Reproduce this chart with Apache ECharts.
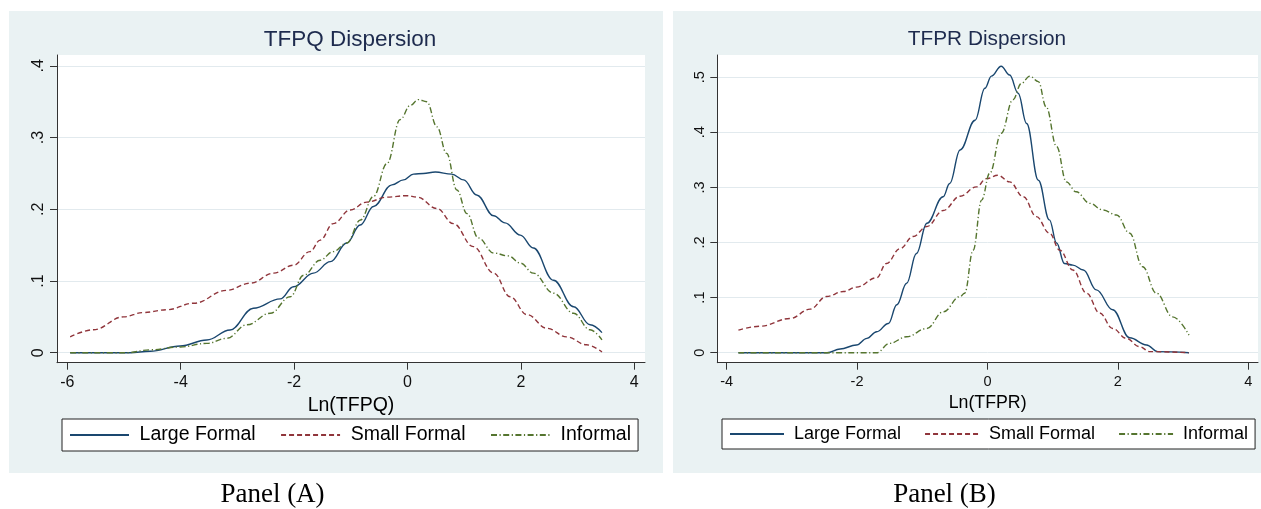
<!DOCTYPE html>
<html>
<head>
<meta charset="utf-8">
<script src="https://cdn.jsdelivr.net/npm/echarts@6/dist/echarts.min.js"></script>
<style>
  html, body { margin: 0; padding: 0; background: #ffffff; }
  #chart { width: 1261px; height: 509px; }
</style>
</head>
<body>
<div id="chart"></div>
<script>
// ---------- Data ----------
const seriesNames = ['Large Formal', 'Small Formal', 'Informal'];

// Panel A: Ln(TFPQ)
const tfpqLargeX = [-5.95, -4.9, -4.54, -4.01, -3.54, -3.13, -2.72, -2.245, -2.01, -1.66, -1.36, -1.07, -0.834, -0.6, -0.275, -0.07, 0.106, 0.28, 0.49, 0.78, 0.99, 1.22, 1.52, 1.72, 1.99, 2.22, 2.575, 2.93, 3.22, 3.43];
const tfpqLargeY = [0, 0, 0.002, 0.0093, 0.0177, 0.0317, 0.062, 0.075, 0.092, 0.111, 0.127, 0.153, 0.178, 0.204, 0.234, 0.241, 0.249, 0.25, 0.252, 0.249, 0.241, 0.22, 0.191, 0.181, 0.164, 0.146, 0.101, 0.064, 0.039, 0.028];

const tfpqSmallX = [-5.95, -5.54, -5.01, -4.66, -4.24, -3.77, -3.19, -2.77, -2.36, -2.01, -1.72, -1.54, -1.31, -1.01, -0.72, -0.36, -0.01, 0.17, 0.52, 0.81, 1.16, 1.52, 1.81, 2.11, 2.46, 2.81, 3.16, 3.43];
const tfpqSmallY = [0.022, 0.032, 0.050, 0.056, 0.060, 0.069, 0.087, 0.097, 0.111, 0.122, 0.141, 0.157, 0.180, 0.199, 0.210, 0.217, 0.219, 0.217, 0.201, 0.180, 0.148, 0.111, 0.078, 0.053, 0.034, 0.022, 0.011, 0.001];

const tfpqInformalX = [-5.95, -4.95, -4.54, -4.01, -3.54, -3.19, -2.83, -2.42, -2.07, -1.83, -1.54, -1.31, -1.07, -0.83, -0.6, -0.36, -0.13, 0.05, 0.19, 0.34, 0.52, 0.69, 0.87, 1.05, 1.25, 1.52, 1.78, 1.99, 2.22, 2.575, 2.93, 3.22, 3.43];
const tfpqInformalY = [0, 0, 0.004, 0.008, 0.013, 0.020, 0.039, 0.055, 0.078, 0.108, 0.129, 0.141, 0.153, 0.185, 0.218, 0.264, 0.325, 0.345, 0.353, 0.350, 0.315, 0.278, 0.227, 0.194, 0.160, 0.139, 0.135, 0.125, 0.111, 0.083, 0.055, 0.032, 0.018];

// Panel B: Ln(TFPR)
const tfprLargeX = [-3.82, -2.46, -2.26, -2.01, -1.85, -1.70, -1.52, -1.39, -1.24, -1.09, -0.93, -0.68, -0.58, -0.42, -0.19, -0.04, 0.06, 0.21, 0.34, 0.47, 0.60, 0.78, 0.95, 1.06, 1.18, 1.31, 1.47, 1.67, 1.92, 2.18, 2.44, 2.61, 3.09];
const tfprLargeY = [0, 0, 0.0067, 0.014, 0.026, 0.038, 0.053, 0.087, 0.126, 0.180, 0.235, 0.283, 0.307, 0.368, 0.422, 0.480, 0.502, 0.520, 0.504, 0.471, 0.416, 0.313, 0.241, 0.199, 0.162, 0.159, 0.150, 0.114, 0.078, 0.027, 0.014, 0.002, 0];

const tfprSmallX = [-3.82, -3.49, -3.03, -2.72, -2.47, -2.21, -2.01, -1.70, -1.55, -1.34, -1.14, -0.93, -0.68, -0.42, -0.17, -0.015, 0.16, 0.34, 0.55, 0.75, 0.95, 1.11, 1.31, 1.52, 1.72, 1.92, 2.13, 2.33, 2.49, 3.09];
const tfprSmallY = [0.041, 0.048, 0.062, 0.079, 0.102, 0.111, 0.119, 0.136, 0.162, 0.189, 0.211, 0.229, 0.258, 0.284, 0.301, 0.316, 0.322, 0.310, 0.283, 0.247, 0.217, 0.186, 0.150, 0.108, 0.072, 0.044, 0.026, 0.011, 0.002, 0];

const tfprInformalX = [-3.82, -1.70, -1.50, -1.24, -0.93, -0.68, -0.42, -0.35, -0.22, -0.09, 0.035, 0.21, 0.39, 0.52, 0.65, 0.78, 0.90, 1.06, 1.21, 1.36, 1.57, 1.77, 1.98, 2.18, 2.38, 2.59, 2.84, 3.09];
const tfprInformalY = [0, 0, 0.017, 0.029, 0.044, 0.074, 0.102, 0.108, 0.186, 0.277, 0.326, 0.398, 0.459, 0.489, 0.502, 0.492, 0.446, 0.374, 0.310, 0.292, 0.271, 0.259, 0.250, 0.217, 0.156, 0.108, 0.065, 0.032];

// Tick labels
const tfpqXTicks = [-6, -4, -2, 0, 2, 4];
const tfpqYTicks = [0, 0.1, 0.2, 0.3, 0.4];
const tfprXTicks = [-4, -2, 0, 2, 4];
const tfprYTicks = [0, 0.1, 0.2, 0.3, 0.4, 0.5];

const panelTitles = ['TFPQ Dispersion', 'TFPR Dispersion'];
const xAxisTitles = ['Ln(TFPQ)', 'Ln(TFPR)'];
const panelCaptions = ['Panel (A)', 'Panel (B)'];

// ---------- Styling ----------
const FONT = '"Liberation Sans", Arial, Helvetica, sans-serif';
const SERIF = '"Liberation Serif", "Times New Roman", Times, serif';
const COLORS = ['#1a476f', '#90353b', '#55752f'];
const DASHES = ['solid', [5, 3], [6, 2.5, 1.2, 2.5]];
const PANEL_BG = '#eaf2f3';
const AXIS_COLOR = '#333333';
const GRID_COLOR = '#e2eaee';

function zip(xs, ys) { return xs.map((x, i) => [x, ys[i]]); }
function yFmt(v) {
  if (Math.abs(v) < 1e-9) return '0';
  return String(Math.round(v * 10) / 10).replace(/^0\./, '.');
}

function makeXAxis(gridIndex, min, max, ticks, name, s) {
  return {
    gridIndex, type: 'value', min, max,
    axisLine: { show: true, onZero: false, lineStyle: { color: AXIS_COLOR, width: 1 } },
    axisTick: { show: true, length: 7, customValues: ticks, lineStyle: { color: AXIS_COLOR, width: 1 } },
    axisLabel: { customValues: ticks, fontSize: 16 * s, color: '#111', margin: 12, fontFamily: FONT },
    splitLine: { show: false },
    name, nameLocation: 'middle', nameGap: 26,
    nameTextStyle: { fontSize: 19.5 * s, color: '#000', fontFamily: FONT }
  };
}
function makeYAxis(gridIndex, min, max, ticks, s) {
  return {
    gridIndex, type: 'value', min, max,
    axisLine: { show: true, onZero: false, lineStyle: { color: AXIS_COLOR, width: 1 } },
    axisTick: { show: true, length: 7, customValues: ticks, lineStyle: { color: AXIS_COLOR, width: 1 } },
    axisLabel: { customValues: ticks, rotate: 90, fontSize: 16 * s, color: '#111', margin: 10, fontFamily: FONT, formatter: yFmt },
    splitLine: { show: true, lineStyle: { color: GRID_COLOR, width: 1 } }
  };
}
function makeSeries(idx, gridIdx, xs, ys) {
  return {
    name: seriesNames[idx], type: 'line',
    xAxisIndex: gridIdx, yAxisIndex: gridIdx,
    data: zip(xs, ys),
    symbol: 'none', showSymbol: false,
    smooth: 0.4, smoothMonotone: 'x',
    lineStyle: { color: COLORS[idx], width: 1.4, type: DASHES[idx] },
    itemStyle: { color: COLORS[idx] },
    silent: true, animation: false
  };
}
function makeLegend(left, itemWidth, fontSize, itemGap, textGap) {
  return {
    data: seriesNames, left, top: 419, width: 620, orient: 'horizontal',
    itemWidth, itemHeight: 14, itemGap,
    padding: [6, 7, 6, 7],
    backgroundColor: '#ffffff', borderColor: '#222', borderWidth: 1,
    itemStyle: { color: 'rgba(0,0,0,0)', borderColor: 'rgba(0,0,0,0)', borderWidth: 0, opacity: 0 },
    textStyle: { fontSize, color: '#000', fontFamily: FONT, padding: [0, 0, 0, textGap] },
    selectedMode: false
  };
}

const chart = echarts.init(document.getElementById('chart'), null, { renderer: 'canvas' });
chart.setOption({
  animation: false,
  backgroundColor: '#ffffff',
  graphic: [
    { type: 'rect', shape: { x: 9, y: 11, width: 654, height: 462 }, style: { fill: PANEL_BG }, z: -100, silent: true },
    { type: 'rect', shape: { x: 673, y: 11, width: 588, height: 462 }, style: { fill: PANEL_BG }, z: -100, silent: true },
    { type: 'text', x: 272.5, y: 495, style: { text: panelCaptions[0], font: '27px ' + SERIF, fill: '#000', align: 'center', verticalAlign: 'middle' }, silent: true },
    { type: 'text', x: 944.5, y: 495, style: { text: panelCaptions[1], font: '27px ' + SERIF, fill: '#000', align: 'center', verticalAlign: 'middle' }, silent: true }
  ],
  title: [
    { text: panelTitles[0], left: 350, top: 28, textAlign: 'center', padding: 0,
      textStyle: { fontSize: 22.5, fontWeight: 'normal', color: '#1e2b4e', fontFamily: FONT } },
    { text: panelTitles[1], left: 987, top: 29, textAlign: 'center', padding: 0,
      textStyle: { fontSize: 20.8, fontWeight: 'normal', color: '#1e2b4e', fontFamily: FONT } }
  ],
  legend: [makeLegend(62, 59, 19.5, 24.5, 5.6), makeLegend(722, 54, 18, 23, 5)],
  grid: [
    { left: 57, top: 55, width: 588, height: 307.7, show: true, backgroundColor: '#ffffff', borderWidth: 0, containLabel: false },
    { left: 717.3, top: 55, width: 540.7, height: 307.7, show: true, backgroundColor: '#ffffff', borderWidth: 0, containLabel: false }
  ],
  xAxis: [
    makeXAxis(0, -6.182, 4.189, tfpqXTicks, xAxisTitles[0], 1),
    makeXAxis(1, -4.144, 4.149, tfprXTicks, xAxisTitles[1], 0.91)
  ],
  yAxis: [
    makeYAxis(0, -0.01395, 0.4152, tfpqYTicks, 1),
    makeYAxis(1, -0.01815, 0.5403, tfprYTicks, 0.91)
  ],
  series: [
    makeSeries(0, 0, tfpqLargeX, tfpqLargeY),
    makeSeries(1, 0, tfpqSmallX, tfpqSmallY),
    makeSeries(2, 0, tfpqInformalX, tfpqInformalY),
    makeSeries(0, 1, tfprLargeX, tfprLargeY),
    makeSeries(1, 1, tfprSmallX, tfprSmallY),
    makeSeries(2, 1, tfprInformalX, tfprInformalY)
  ]
});
</script>
</body>
</html>
